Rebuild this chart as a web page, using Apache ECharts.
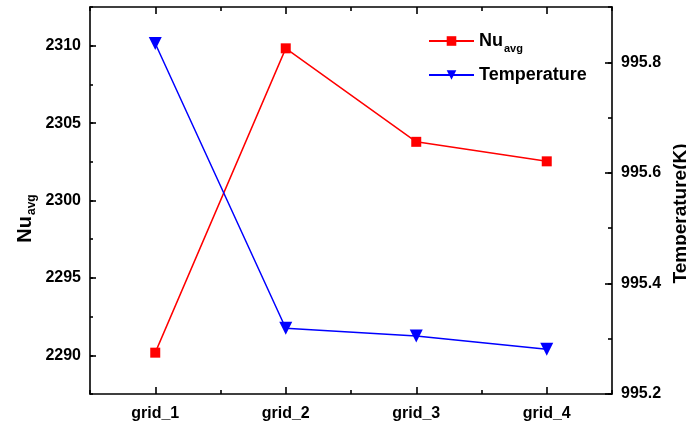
<!DOCTYPE html>
<html>
<head>
<meta charset="utf-8">
<script src="https://cdn.jsdelivr.net/npm/echarts@6/dist/echarts.min.js"></script>
<style>html,body{margin:0;padding:0;background:#fff}#c{width:686px;height:423px}</style>
</head>
<body>
<div id="c"></div>
<script>
const categories = ['grid_1', 'grid_2', 'grid_3', 'grid_4'];
const nuAvg = [2290.17, 2309.83, 2303.79, 2302.53];
const temperature = [995.834, 995.319, 995.305, 995.281];
const nuTicks = [2290, 2295, 2300, 2305, 2310];
const tempTicks = [995.2, 995.4, 995.6, 995.8];

const FONT = '"Liberation Sans", Arial, sans-serif';
const chart = echarts.init(document.getElementById('c'));
const lineStyle = { color: '#000', width: 1.6 };
const txt = { fontFamily: FONT, fontWeight: 'bold', fontSize: 16, color: '#000' };

function catAxis(pos, showLabel, aligned, len, showLine) {
  return {
    type: 'category', data: categories, position: pos, boundaryGap: true,
    axisLine: { show: showLine, lineStyle: lineStyle },
    axisTick: { show: true, inside: true, alignWithLabel: aligned, length: len, lineStyle: lineStyle },
    axisLabel: Object.assign({ show: showLabel, margin: 12 }, txt),
    splitLine: { show: false }
  };
}

const option = {
  animation: false,
  backgroundColor: '#fff',
  grid: { left: 90, right: 74, top: 7, bottom: 29, containLabel: false, outerBoundsMode: 'none' },
  legend: {
    left: 423, top: 27, orient: 'vertical', itemGap: 12,
    itemWidth: 45, itemHeight: 12,
    data: ['Nu_avg', 'Temperature'],
    formatter: function (n) { return n === 'Nu_avg' ? '{a|Nu}{b|avg}' : '{a|Temperature}'; },
    textStyle: {
      rich: {
        a: { fontFamily: FONT, fontWeight: 'bold', fontSize: 18, color: '#000' },
        b: { fontFamily: FONT, fontWeight: 'bold', fontSize: 11, color: '#000', padding: [15, 0, 0, 1] }
      }
    }
  },
  xAxis: [
    catAxis('bottom', true, true, 7, true),
    catAxis('bottom', false, false, 4, false),
    catAxis('top', false, true, 7, true),
    catAxis('top', false, false, 4, false)
  ],
  yAxis: [
    {
      type: 'value', position: 'left', min: 2287.5, max: 2312.5, interval: 2.5,
      name: '{a|Nu}{b|avg}', nameLocation: 'middle', nameGap: 52, nameRotate: 90,
      nameMoveOverlap: false,
      nameTextStyle: {
        padding: [0, 36, 0, 0],
        rich: {
          a: { fontFamily: FONT, fontWeight: 'bold', fontSize: 20, color: '#000' },
          b: { fontFamily: FONT, fontWeight: 'bold', fontSize: 12, color: '#000', padding: [14, 0, 0, 1] }
        }
      },
      axisLine: { show: true, lineStyle: lineStyle },
      axisTick: { show: true, inside: true, length: 6, lineStyle: lineStyle, customValues: nuTicks },
      axisLabel: Object.assign({ margin: 9, customValues: nuTicks, formatter: v => String(Math.round(v)) }, txt),
      splitLine: { show: false }
    },
    {
      type: 'value', position: 'left', min: 2287.5, max: 2312.5, interval: 2.5,
      axisLine: { show: false },
      axisTick: { show: true, inside: true, length: 3, lineStyle: lineStyle },
      axisLabel: { show: false },
      splitLine: { show: false }
    },
    {
      type: 'value', position: 'right', min: 995.2, max: 995.9, interval: 0.1,
      name: 'Temperature(K)', nameLocation: 'middle', nameGap: 59, nameRotate: 90,
      nameMoveOverlap: false,
      nameTextStyle: Object.assign({}, txt, { fontSize: 19, padding: [0, 26, 0, 0] }),
      axisLine: { show: true, lineStyle: lineStyle },
      axisTick: { show: true, inside: true, length: 7, lineStyle: lineStyle, customValues: tempTicks },
      axisLabel: Object.assign({ margin: 9, customValues: tempTicks, formatter: v => v.toFixed(1) }, txt),
      splitLine: { show: false }
    },
    {
      type: 'value', position: 'right', min: 995.2, max: 995.9, interval: 0.1,
      axisLine: { show: false },
      axisTick: { show: true, inside: true, length: 4, lineStyle: lineStyle },
      axisLabel: { show: false },
      splitLine: { show: false }
    }
  ],
  series: [
    {
      name: 'Nu_avg', type: 'line', xAxisIndex: 0, yAxisIndex: 0, data: nuAvg,
      symbol: 'rect', symbolSize: 10,
      itemStyle: { color: '#ff0000' }, lineStyle: { color: '#ff0000', width: 1.5 }
    },
    {
      name: 'Temperature', type: 'line', xAxisIndex: 0, yAxisIndex: 2, data: temperature,
      symbol: 'triangle', symbolRotate: 180, symbolSize: 13,
      itemStyle: { color: '#0000ff' }, lineStyle: { color: '#0000ff', width: 1.5 }
    }
  ]
};
chart.setOption(option);
</script>
</body>
</html>
